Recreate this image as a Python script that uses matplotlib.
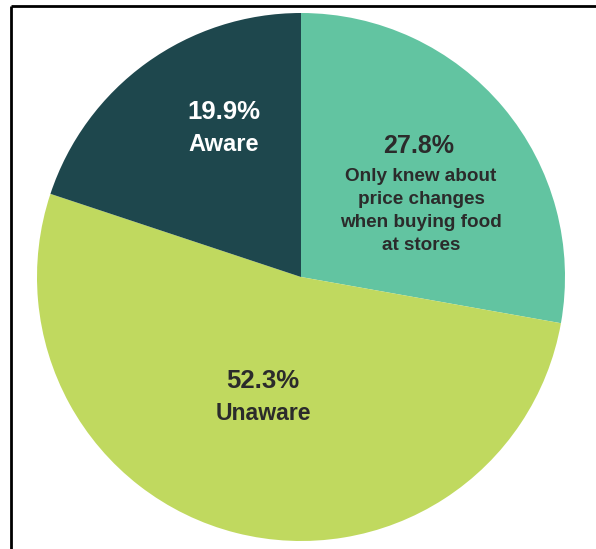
import matplotlib
matplotlib.use("Agg")
import matplotlib.pyplot as plt

# survey shares, drawn clockwise from 12 o'clock
shares = [27.8, 52.3, 19.9]
labels = ["Only knew about\nprice changes\nwhen buying food\nat stores", "Unaware", "Aware"]
colors = ["#62c4a1", "#c0d95f", "#1e474d"]
text_colors = ["#2b2b2b", "#2b2b2b", "#ffffff"]

W, H = 596, 549
plt.rcParams["font.family"] = ["Liberation Sans", "DejaVu Sans"]
fig = plt.figure(figsize=(W / 100, H / 100), dpi=100)
ax = fig.add_axes([0, 0, 1, 1])

cx, cy, r = 301, H - 277, 264
ax.pie(shares, colors=colors, startangle=90, counterclock=False,
       center=(cx, cy), radius=r, frame=True)
ax.set_xlim(0, W)
ax.set_ylim(0, H)
ax.axis("off")

# baselines (pixel coords from top); for the caption it is the last line
pct_pos = [(419, 153), (263, 388), (224, 119)]
txt_pos = [(421, 250), (263, 420), (224, 151)]
pct_size = [18, 18.5, 18.5]
txt_size = [13.6, 16.6, 17]
for i in range(3):
    ax.text(pct_pos[i][0], H - pct_pos[i][1], "%.1f%%" % shares[i], ha="center", va="baseline",
            fontsize=pct_size[i], fontweight="bold", color=text_colors[i])
    ax.text(txt_pos[i][0], H - txt_pos[i][1], labels[i], ha="center", va="baseline",
            fontsize=txt_size[i], fontweight="bold", color=text_colors[i],
            linespacing=1.45, multialignment="center")

# frame lines on the top and left
ax.plot([11, W], [H - 6, H - 6], color="black", lw=2, solid_capstyle="butt")
ax.plot([11, 11], [H - 6, 0], color="black", lw=2, solid_capstyle="butt")

fig.savefig("out.png", dpi=100)
